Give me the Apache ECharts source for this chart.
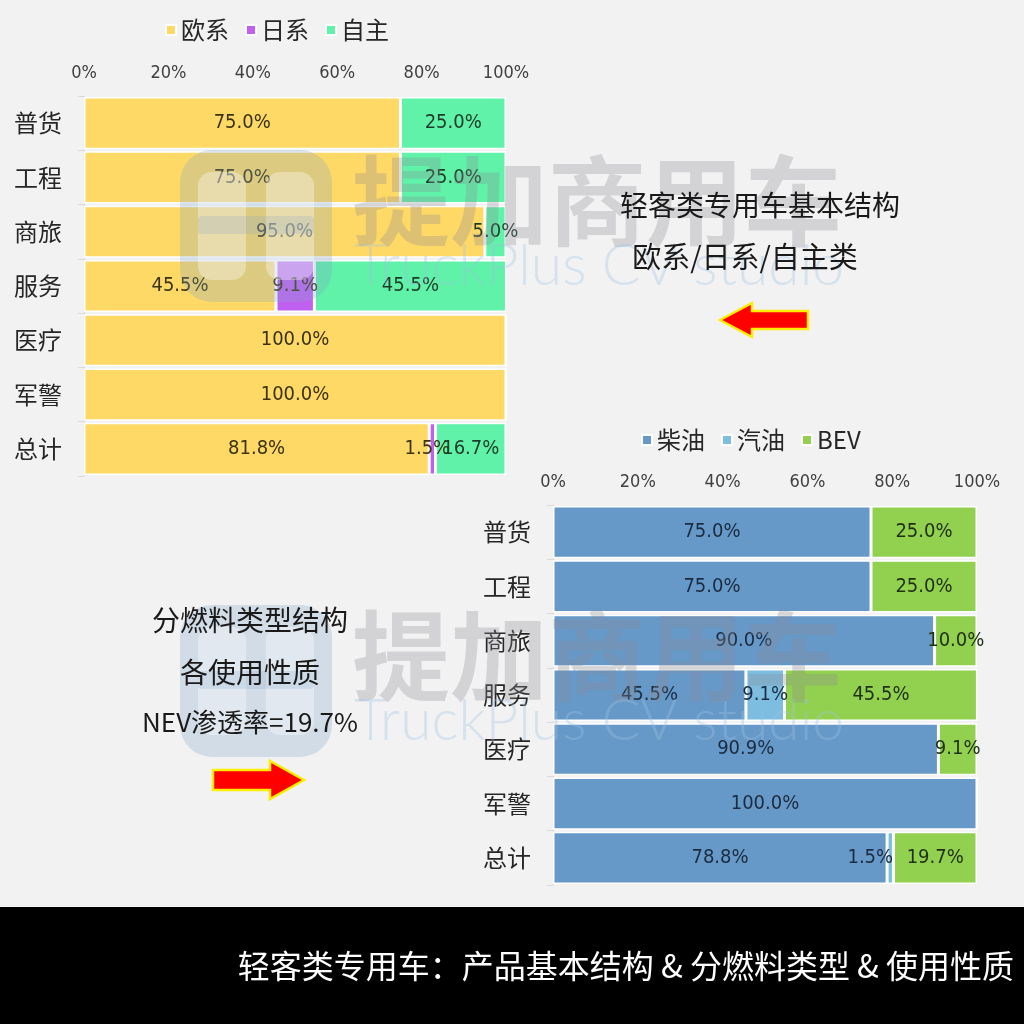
<!DOCTYPE html>
<html>
<head>
<meta charset="utf-8">
<script src="https://cdn.jsdelivr.net/npm/echarts@6/dist/echarts.min.js"></script>
<style>
html,body{margin:0;padding:0;background:#f2f2f2;}
#c{width:1024px;height:1024px;}
</style>
</head>
<body>
<div id="c"></div>
<script>
const categories = ['普货', '工程', '商旅', '服务', '医疗', '军警', '总计'];
const xTicks = [0, 20, 40, 60, 80, 100];

// Top chart: brand origin share (%)
const euro = [75.0, 75.0, 95.0, 45.5, 100.0, 100.0, 81.8];
const japan = [0, 0, 0, 9.1, 0, 0, 1.5];
const domestic = [25.0, 25.0, 5.0, 45.5, 0, 0, 16.7];

// Bottom chart: fuel type share (%)
const diesel = [75.0, 75.0, 90.0, 45.5, 90.9, 100.0, 78.8];
const gasoline = [0, 0, 0, 9.1, 0, 0, 1.5];
const bev = [25.0, 25.0, 10.0, 45.5, 9.1, 0, 19.7];

const narrow = "'Liberation Sans Narrow', 'DejaVu Sans Condensed', 'Noto Sans', sans-serif";
const cjk = "'Noto Sans CJK SC', 'Noto Sans', sans-serif";

const chart = echarts.init(document.getElementById('c'));

function valLabel(color) {
  return {
    show: true,
    position: 'inside',
    fontFamily: narrow,
    fontSize: 20,
    color: color,
    formatter: p => p.value > 0 ? p.value.toFixed(1) + '%' : ''
  };
}
// tiny segments: shift their label a bit left, like the reference
function withShift(data, dx) {
  return data.map(v => (v > 0 && v < 3) ? { value: v, label: { offset: [dx, 0] } } : v);
}
function barSeries(name, data, color, idx, labelColor) {
  return {
    name: name, type: 'bar', stack: 's' + idx, data: data,
    xAxisIndex: idx, yAxisIndex: idx,
    barCategoryGap: '4%',
    itemStyle: { color: color, borderColor: '#ffffff', borderWidth: 1.5 },
    label: valLabel(labelColor),
    emphasis: { disabled: true }
  };
}
function xAx(idx) {
  return {
    gridIndex: idx, type: 'value', position: 'top', min: 0, max: 100, interval: 20,
    axisLine: { show: false }, axisTick: { show: false }, splitLine: { show: false },
    axisLabel: {
      fontFamily: narrow, fontSize: 18, color: '#404040', margin: 14,
      formatter: v => xTicks.includes(v) ? v + '%' : ''
    }
  };
}
function yAx(idx) {
  return {
    gridIndex: idx, type: 'category', data: categories, inverse: true,
    axisLine: { show: true, lineStyle: { color: '#d9d9d9', width: 1 } },
    axisTick: { show: true, length: 6, lineStyle: { color: '#d9d9d9' } },
    axisLabel: { fontFamily: cjk, fontSize: 24, color: '#262626', margin: 22 }
  };
}

function watermark(y) {
  return [
    { type: 'rect', shape: { x: 180, y: y, width: 152, height: 152, r: 32 },
      style: { fill: 'rgba(130,165,200,0.28)' }, z: 100 },
    { type: 'rect', shape: { x: 198, y: y + 22, width: 48, height: 108, r: 14 },
      style: { fill: 'rgba(255,255,255,0.35)' }, z: 101 },
    { type: 'rect', shape: { x: 266, y: y + 22, width: 48, height: 108, r: 14 },
      style: { fill: 'rgba(255,255,255,0.35)' }, z: 101 },
    { type: 'rect', shape: { x: 198, y: y + 66, width: 116, height: 18, r: 4 },
      style: { fill: 'rgba(130,165,200,0.22)' }, z: 101 },
    { type: 'text', left: 352, top: y + 2,
      style: { text: '提加商用车', font: 'bold 98px ' + cjk, fill: 'rgba(140,140,150,0.30)' }, z: 100 },
    { type: 'text', left: 354, top: y + 88,
      style: { text: 'TruckPlus CV studio', font: '300 57px Lato, "Open Sans", sans-serif', fill: 'rgba(160,195,225,0.35)' }, z: 100 }
  ];
}

const option = {
  backgroundColor: '#f2f2f2',
  animation: false,
  legend: [
    { data: ['欧系', '日系', '自主'], left: 160, top: 13, itemWidth: 10, itemHeight: 10, itemGap: 16,
      icon: 'rect', textStyle: { fontFamily: cjk, fontSize: 24, color: '#262626' } },
    { data: ['柴油', '汽油', 'BEV'], left: 636, top: 423, itemWidth: 10, itemHeight: 10, itemGap: 16,
      icon: 'rect', textStyle: { fontFamily: cjk, fontSize: 24, color: '#262626' } }
  ],
  grid: [
    { left: 84, top: 96, width: 422, height: 380 },
    { left: 553, top: 505, width: 424, height: 380 }
  ],
  xAxis: [xAx(0), xAx(1)],
  yAxis: [yAx(0), yAx(1)],
  series: [
    barSeries('欧系', euro, '#ffd966', 0, '#3a3210'),
    barSeries('日系', withShift(japan, -5), '#c060f0', 0, '#3a3210'),
    barSeries('自主', domestic, '#5ff2a8', 0, '#1e3a28'),
    barSeries('柴油', diesel, '#6699c8', 1, '#1c2c40'),
    barSeries('汽油', withShift(gasoline, -20), '#7cbde0', 1, '#1c2c40'),
    barSeries('BEV', bev, '#92d050', 1, '#1f3010')
  ],
  graphic: [].concat(
    watermark(150),
    watermark(605),
    [
      { type: 'text', x: 760, y: 205,
        style: { text: '轻客类专用车基本结构', font: '28px ' + cjk, fill: '#1a1a1a', align: 'center', verticalAlign: 'middle' }, z: 110 },
      { type: 'text', x: 745, y: 257,
        style: { text: '欧系/日系/自主类', font: '29px ' + cjk, fill: '#1a1a1a', align: 'center', verticalAlign: 'middle' }, z: 110 },
      { type: 'text', x: 250, y: 620,
        style: { text: '分燃料类型结构', font: '28px ' + cjk, fill: '#1a1a1a', align: 'center', verticalAlign: 'middle' }, z: 110 },
      { type: 'text', x: 250, y: 672,
        style: { text: '各使用性质', font: '28px ' + cjk, fill: '#1a1a1a', align: 'center', verticalAlign: 'middle' }, z: 110 },
      { type: 'text', x: 250, y: 722,
        style: { text: 'NEV渗透率=19.7%', font: '26px ' + cjk, fill: '#1a1a1a', align: 'center', verticalAlign: 'middle' }, z: 110 },
      { type: 'polygon', z: 110,
        shape: { points: [[720, 320], [752, 303], [752, 311], [808, 311], [808, 329], [752, 329], [752, 337]] },
        style: { fill: '#ff0000', stroke: '#ffee00', lineWidth: 2.5 } },
      { type: 'polygon', z: 110,
        shape: { points: [[304, 780], [270, 761], [270, 770], [213, 770], [213, 790], [270, 790], [270, 799]] },
        style: { fill: '#ff0000', stroke: '#ffee00', lineWidth: 2.5 } },
      { type: 'rect', z: 120, shape: { x: 0, y: 907, width: 1024, height: 117 },
        style: { fill: '#000000' } },
      { type: 'text', z: 121, x: 1014, y: 966,
        style: { text: '轻客类专用车：产品基本结构 & 分燃料类型 & 使用性质', font: '32px ' + cjk, fill: '#ffffff', align: 'right', verticalAlign: 'middle' } }
    ]
  )
};
chart.setOption(option);
</script>
</body>
</html>
